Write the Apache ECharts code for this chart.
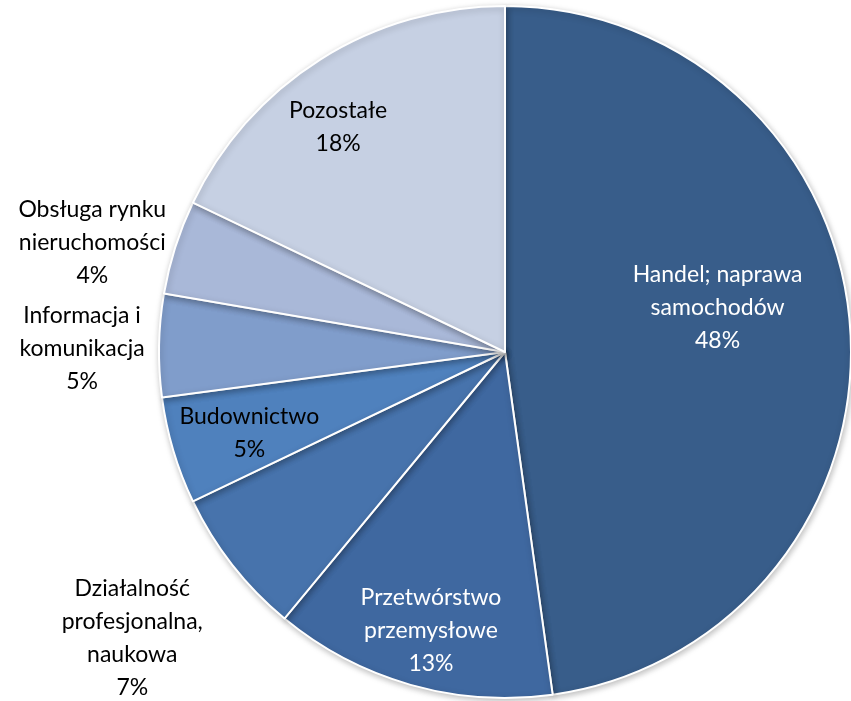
<!DOCTYPE html>
<html><head><meta charset="utf-8">
<script src="https://cdn.jsdelivr.net/npm/echarts@6/dist/echarts.min.js"></script>
<style>html,body{margin:0;padding:0;background:#fff}#c{width:851px;height:701px}</style>
</head><body><div id="c"></div>
<script>
const categories = ["Handel; naprawa\nsamochodów", "Przetwórstwo\nprzemysłowe", "Działalność\nprofesjonalna,\nnaukowa", "Budownictwo", "Informacja i\nkomunikacja", "Obsługa rynku\nnieruchomości", "Pozostałe"];
const values = [47.8, 13.2, 6.9, 5.0, 4.8, 4.4, 17.9];
const colors = ["#385D8A", "#3F68A0", "#4773AC", "#4F81BD", "#809DCB", "#A9B8D8", "#C6D0E3"];
const labelColors = ["#fff", "#fff", "#000", "#000", "#000", "#000", "#000"];
const labelOffsets = [[37, -32], [-26, 109], [-234, 178], [-87, 31], [-247, 0], [-245, -56], [-73, -76]];

const chart = echarts.init(document.getElementById('c'));
chart.setOption({
  animation: false,
  series: [{
    type: 'pie',
    center: [505, 352],
    radius: 346,
    startAngle: 90,
    clockwise: true,
    percentPrecision: 0,
    avoidLabelOverlap: false,
    label: {
      show: true,
      position: 'inside',
      formatter: '{b}\n{d}%',
      fontFamily: 'Lato',
      fontSize: 23,
      lineHeight: 33,
      align: 'center'
    },
    labelLine: { show: false },
    labelLayout: function (p) {
      const o = labelOffsets[p.dataIndex];
      return { dx: o[0], dy: o[1] };
    },
    itemStyle: {
      borderColor: '#fff',
      borderWidth: 2,
      shadowBlur: 6,
      shadowColor: 'rgba(0,0,0,0.25)',
      shadowOffsetX: 1,
      shadowOffsetY: 2
    },
    emphasis: { disabled: true },
    data: categories.map((c, i) => ({
      name: c, value: values[i],
      itemStyle: { color: colors[i] },
      label: { color: labelColors[i] }
    }))
  }]
});
</script></body></html>
